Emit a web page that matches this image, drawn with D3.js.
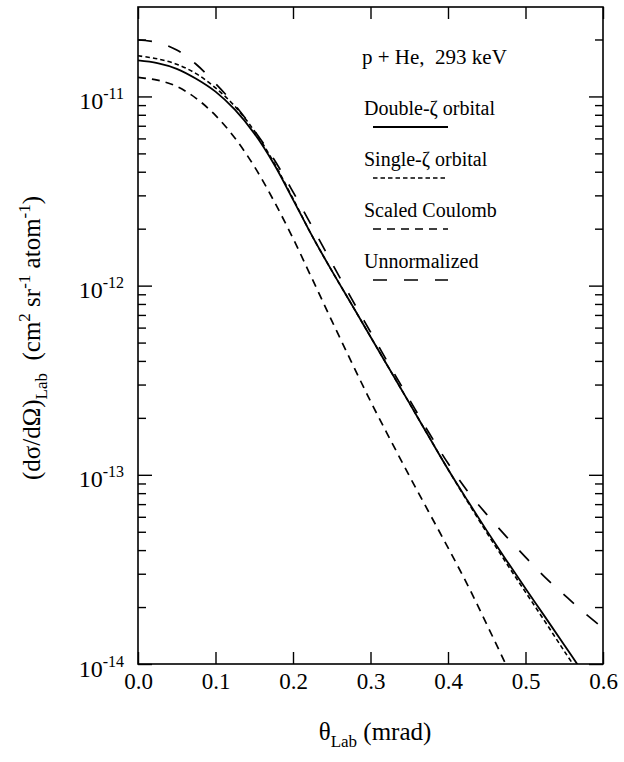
<!DOCTYPE html>
<html>
<head>
<meta charset="utf-8">
<script src="https://cdn.jsdelivr.net/npm/d3@7"></script>
<style>
  html, body { margin: 0; padding: 0; background: #fff; }
  svg { display: block; }
  svg text { font-family: "Liberation Serif", "Times New Roman", serif; }
</style>
</head>
<body>
<svg id="chart" width="624" height="762"></svg>
<script>
// ---- data ----
const thetaGrid = [0.000,0.025,0.050,0.075,0.100,0.125,0.150,0.175,0.200,0.225,0.250,0.275,
                   0.300,0.325,0.350,0.375,0.400,0.425,0.450,0.475,0.500,0.525,0.550,0.575,0.600];

const doubleZeta = [1.55e-11,1.50e-11,1.40e-11,1.24e-11,1.06e-11,8.51e-12,6.38e-12,4.42e-12,
                    2.85e-12,1.82e-12,1.20e-12,8.04e-13,5.37e-13,3.59e-13,2.40e-13,1.60e-13,
                    1.07e-13,7.33e-14,5.07e-14,3.55e-14,2.51e-14,1.78e-14,1.26e-14,8.91e-15];

const singleZeta = [1.64e-11,1.58e-11,1.48e-11,1.32e-11,1.11e-11,8.87e-12,6.58e-12,4.50e-12,
                    2.88e-12,1.82e-12,1.20e-12,8.04e-13,5.37e-13,3.59e-13,2.40e-13,1.60e-13,
                    1.07e-13,7.24e-14,4.95e-14,3.43e-14,2.40e-14,1.68e-14,1.17e-14,8.22e-15];

const scaledCoulomb = [1.26e-11,1.22e-11,1.13e-11,9.77e-12,7.94e-12,6.03e-12,4.27e-12,2.82e-12,
                       1.78e-12,1.08e-12,6.53e-13,3.98e-13,2.45e-13,1.55e-13,9.89e-14,6.38e-14,
                       4.12e-14,2.63e-14,1.62e-14,9.89e-15,6.03e-15];

const unnormalized = [1.99e-11,1.93e-11,1.76e-11,1.48e-11,1.17e-11,9.02e-12,6.61e-12,4.68e-12,
                      3.13e-12,2.04e-12,1.32e-12,8.61e-13,5.69e-13,3.76e-13,2.51e-13,1.68e-13,
                      1.15e-13,8.22e-14,6.17e-14,4.73e-14,3.67e-14,2.88e-14,2.32e-14,1.88e-14,1.55e-14];

const seriesNames = ["Double-\u03B6 orbital","Single-\u03B6 orbital","Scaled Coulomb","Unnormalized"];
const xTickValues = [0.0,0.1,0.2,0.3,0.4,0.5,0.6];
const yDecades = [1e-14,1e-13,1e-12,1e-11];
const yDecadeExponents = ["-14","-13","-12","-11"];
const titleText = "p + He,  293 keV";

// ---- layout ----
const svg = d3.select("#chart");
const L = 138, T = 7, R = 603, B = 664;
const x = d3.scaleLinear().domain([0, 0.6]).range([L, R]);
const y = d3.scaleLog().domain([1e-14, 2.97e-11]).range([B, T]);

const styles = [
  {dash: null, w: 1.8},
  {dash: "4.5,3", w: 1.6},
  {dash: "8,6", w: 1.7},
  {dash: "14,17", w: 1.7}
];
const allSeries = [doubleZeta, singleZeta, scaledCoulomb, unnormalized];

svg.append("clipPath").attr("id","clip")
  .append("rect").attr("x",L).attr("y",T).attr("width",R-L).attr("height",B-T);

const line = d3.line()
  .x((d,i) => x(thetaGrid[i]))
  .y(d => y(d))
  .curve(d3.curveCatmullRom.alpha(0.5));

const curves = svg.append("g").attr("clip-path","url(#clip)");
allSeries.forEach((s,k) => {
  curves.append("path")
    .attr("d", line(s))
    .attr("fill","none")
    .attr("stroke","#000")
    .attr("stroke-width", styles[k].w)
    .attr("stroke-dasharray", styles[k].dash);
});

// ---- axes ----
const minorVals = [];
yDecades.forEach(d => { for (let m=2;m<=9;m++){ const v=d*m; if (v<=2.97e-11) minorVals.push(v);} });

function styleAxis(g){
  g.attr("font-family", null).attr("font-size", null);
  g.select(".domain").remove();
  g.selectAll("line").attr("stroke","#000").attr("stroke-width",1.4);
}

// bottom
const gx = svg.append("g").attr("transform",`translate(0,${B})`)
  .call(d3.axisBottom(x).tickValues(xTickValues).tickSize(-12).tickFormat(d3.format(".1f")));
styleAxis(gx);
gx.selectAll("text").attr("y",25).attr("dy",null)
  .attr("font-size",23).attr("fill","#000");
// top
const gxt = svg.append("g").attr("transform",`translate(0,${T})`)
  .call(d3.axisTop(x).tickValues(xTickValues).tickSize(-12).tickFormat(""));
styleAxis(gxt);

// left majors + labels
const gy = svg.append("g").attr("transform",`translate(${L},0)`)
  .call(d3.axisLeft(y).tickValues(yDecades).tickSize(-14).tickFormat(""));
styleAxis(gy);
gy.selectAll(".tick").each(function(d,i){
  const t = d3.select(this).append("text")
    .attr("x",-14).attr("y",12)
    .attr("text-anchor","end")
    .attr("font-size",24).attr("fill","#000");
  t.append("tspan").text("10");
  t.append("tspan").attr("dy",-10).attr("font-size",16).text(yDecadeExponents[i]);
});
const gym = svg.append("g").attr("transform",`translate(${L},0)`)
  .call(d3.axisLeft(y).tickValues(minorVals).tickSize(-8).tickFormat(""));
styleAxis(gym);
// right
const gyr = svg.append("g").attr("transform",`translate(${R},0)`)
  .call(d3.axisRight(y).tickValues(yDecades).tickSize(-14).tickFormat(""));
styleAxis(gyr);
const gyrm = svg.append("g").attr("transform",`translate(${R},0)`)
  .call(d3.axisRight(y).tickValues(minorVals).tickSize(-8).tickFormat(""));
styleAxis(gyrm);

// frame
svg.append("rect").attr("x",L).attr("y",T).attr("width",R-L).attr("height",B-T)
  .attr("fill","none").attr("stroke","#000").attr("stroke-width",1.6);

// ---- labels ----
const xl = svg.append("text").attr("x",375).attr("y",740).attr("text-anchor","middle")
  .attr("font-size",25).attr("fill","#000");
xl.append("tspan").text("\u03B8");
xl.append("tspan").attr("dy",7).attr("font-size",17).text("Lab");
xl.append("tspan").attr("dy",-7).text(" (mrad)");

const yl = svg.append("text").attr("transform","translate(40,338) rotate(-90)")
  .attr("text-anchor","middle").attr("font-size",25).attr("fill","#000")
  .style("white-space","pre");
yl.append("tspan").text("(d\u03C3/d\u03A9)");
yl.append("tspan").attr("dy",7).attr("font-size",17).text("Lab");
yl.append("tspan").attr("dy",-7).text("  (cm");
yl.append("tspan").attr("dy",-10).attr("font-size",17).text("2");
yl.append("tspan").attr("dy",10).text(" sr");
yl.append("tspan").attr("dy",-10).attr("font-size",17).text("-1");
yl.append("tspan").attr("dy",10).text(" atom");
yl.append("tspan").attr("dy",-10).attr("font-size",17).text("-1");
yl.append("tspan").attr("dy",10).text(")");

// ---- legend ----
svg.append("text").attr("x",362).attr("y",64).attr("font-size",21).attr("fill","#000")
  .style("white-space","pre").text(titleText);
const legY = [115, 166, 217, 268];
seriesNames.forEach((n,k) => {
  svg.append("text").attr("x",364).attr("y",legY[k]).attr("font-size",20).attr("fill","#000").text(n);
  svg.append("line").attr("x1",373).attr("x2",448)
    .attr("y1",legY[k]+12).attr("y2",legY[k]+12)
    .attr("stroke","#000").attr("stroke-width",styles[k].w)
    .attr("stroke-dasharray",styles[k].dash);
});
</script>
</body>
</html>
